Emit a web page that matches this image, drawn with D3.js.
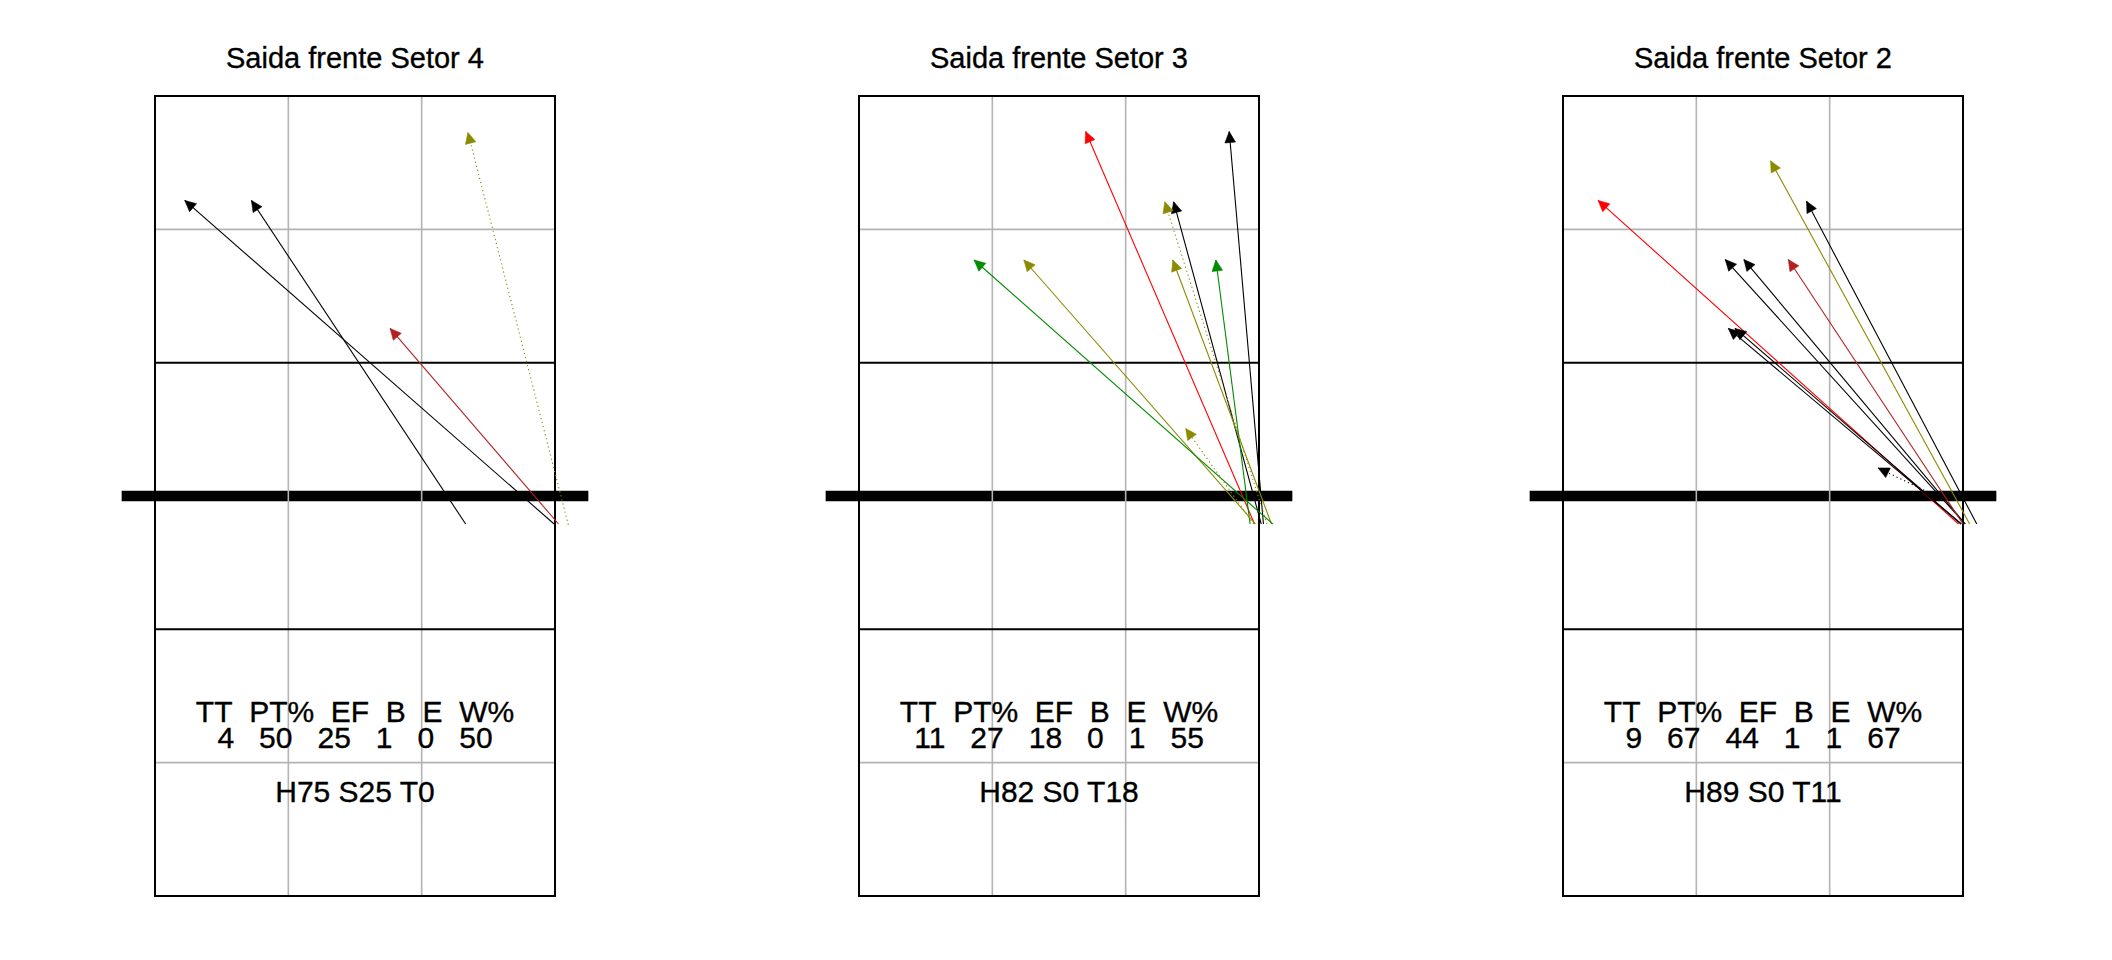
<!DOCTYPE html>
<html><head><meta charset="utf-8">
<script src="https://cdn.jsdelivr.net/npm/d3@7"></script>
<style>
body{margin:0;background:#fff}
text{font-family:"Liberation Sans",Arial,sans-serif;fill:#000;stroke:#000;stroke-width:0.35px}
</style>
</head><body>
<svg id="chart" width="2112" height="960"></svg>
<script>
// ---------- data ----------
const titles = ["Saida frente Setor 4", "Saida frente Setor 3", "Saida frente Setor 2"];
const statHeader = ["TT", "PT%", "EF", "B", "E", "W%"];
const statValues = [
  [4, 50, 25, 1, 0, 50],
  [11, 27, 18, 0, 1, 55],
  [9, 67, 44, 1, 1, 67]
];
const hValues = [75, 82, 89];
const sValues = [25, 0, 0];
const tValues = [0, 18, 11];

// arrows: [x start (m), y start (m), x end (m), y end (m), colour group, line type]
const arrowsSetor4 = [
  [6.99, 8.37, 2.17, 15.65, "black", "solid"],
  [8.98, 8.37, 0.67, 15.65, "black", "solid"],
  [9.08, 8.37, 5.29, 12.77, "firebrick", "solid"],
  [9.30, 8.35, 7.04, 17.18, "olive", "dotted"]
];
const arrowsSetor3 = [
  [8.90, 8.37, 5.10, 17.20, "red", "solid"],
  [9.10, 8.37, 8.33, 17.20, "black", "solid"],
  [9.05, 8.37, 7.08, 15.62, "black", "solid"],
  [9.18, 8.37, 6.88, 15.62, "olive", "dotted"],
  [8.80, 8.37, 8.03, 14.31, "green", "solid"],
  [9.28, 8.37, 7.06, 14.31, "olive", "solid"],
  [8.92, 8.37, 3.71, 14.31, "olive", "solid"],
  [9.31, 8.37, 2.59, 14.31, "green", "solid"],
  [8.88, 8.37, 7.35, 10.52, "olive", "dotted"]
];
const arrowsSetor2 = [
  [8.90, 8.37, 0.79, 15.65, "red", "solid"],
  [9.15, 8.37, 4.67, 16.54, "olive", "solid"],
  [9.31, 8.37, 5.48, 15.63, "black", "solid"],
  [9.05, 8.37, 3.65, 14.32, "black", "solid"],
  [9.05, 8.37, 4.07, 14.32, "black", "solid"],
  [9.00, 8.37, 5.07, 14.32, "firebrick", "solid"],
  [8.96, 8.37, 3.72, 12.77, "black", "solid"],
  [8.96, 8.37, 3.87, 12.77, "black", "solid"],
  [8.21, 9.09, 7.09, 9.63, "black", "dotted"]
];
const panelArrows = [arrowsSetor4, arrowsSetor3, arrowsSetor2];

// ---------- styles ----------
const colour = d3.scaleOrdinal()
  .domain(["black", "red", "firebrick", "olive", "green"])
  .range(["#000000", "#FF0000", "#B22222", "#8B8B00", "#008B00"]);
const dash = d3.scaleOrdinal().domain(["solid", "dotted"]).range([null, "1.2,3"]);

const svg = d3.select("#chart");
const panelLeft = [155, 859, 1563];
const courtW = 400, courtTop = 96, courtBottom = 896;
const NB = "\u00A0";

panelLeft.forEach((left, i) => {
  const x = d3.scaleLinear().domain([0, 9]).range([left, left + courtW]);
  const y = d3.scaleLinear().domain([0, 18]).range([courtBottom, courtTop]);
  const g = svg.append("g");

  // net
  g.append("line")
    .attr("x1", x(-0.75)).attr("x2", x(9.75))
    .attr("y1", y(9)).attr("y2", y(9))
    .attr("stroke", "#000").attr("stroke-width", 10.5);

  // grey grid
  [3, 6].forEach(v => {
    g.append("line").attr("x1", x(v)).attr("x2", x(v)).attr("y1", y(0)).attr("y2", y(18))
      .attr("stroke", "#b3b3b3").attr("stroke-width", 1.6);
  });
  [3, 15].forEach(v => {
    g.append("line").attr("x1", x(0)).attr("x2", x(9)).attr("y1", y(v)).attr("y2", y(v))
      .attr("stroke", "#b3b3b3").attr("stroke-width", 1.6);
  });
  // black lines
  [6, 12].forEach(v => {
    g.append("line").attr("x1", x(0)).attr("x2", x(9)).attr("y1", y(v)).attr("y2", y(v))
      .attr("stroke", "#000").attr("stroke-width", 2);
  });
  g.append("rect")
    .attr("x", x(0)).attr("y", y(18))
    .attr("width", x(9) - x(0)).attr("height", y(0) - y(18))
    .attr("fill", "none").attr("stroke", "#000").attr("stroke-width", 2);

  // title
  g.append("text")
    .attr("x", x(4.5)).attr("y", 68)
    .attr("text-anchor", "middle").attr("font-size", 29)
    .text(titles[i]);

  // stats
  g.append("text")
    .attr("x", x(4.5)).attr("y", y(3.915))
    .attr("text-anchor", "middle").attr("font-size", 30)
    .text(statHeader.join(NB + NB));
  g.append("text")
    .attr("x", x(4.5)).attr("y", y(3.33))
    .attr("text-anchor", "middle").attr("font-size", 30)
    .text(statValues[i].join(NB + NB + NB));
  g.append("text")
    .attr("x", x(4.5)).attr("y", y(2.12))
    .attr("text-anchor", "middle").attr("font-size", 30)
    .text("H" + hValues[i] + " S" + sValues[i] + " T" + tValues[i]);

  // arrows
  const L = 11, W = 5.3;
  panelArrows[i].forEach(a => {
    const [x0, y0, x1, y1, c, lt] = a;
    const px0 = x(x0), py0 = y(y0), px1 = x(x1), py1 = y(y1);
    g.append("line")
      .attr("x1", px0).attr("y1", py0).attr("x2", px1).attr("y2", py1)
      .attr("stroke", colour(c)).attr("stroke-width", 1.1)
      .attr("stroke-dasharray", dash(lt));
    const ang = Math.atan2(py1 - py0, px1 - px0);
    const bx = px1 - L * Math.cos(ang), by = py1 - L * Math.sin(ang);
    const nx = -Math.sin(ang) * W, ny = Math.cos(ang) * W;
    g.append("path")
      .attr("d", `M${px1},${py1}L${bx + nx},${by + ny}L${bx - nx},${by - ny}Z`)
      .attr("fill", colour(c)).attr("stroke", colour(c)).attr("stroke-width", 0.6);
  });
});
</script>
</body></html>
